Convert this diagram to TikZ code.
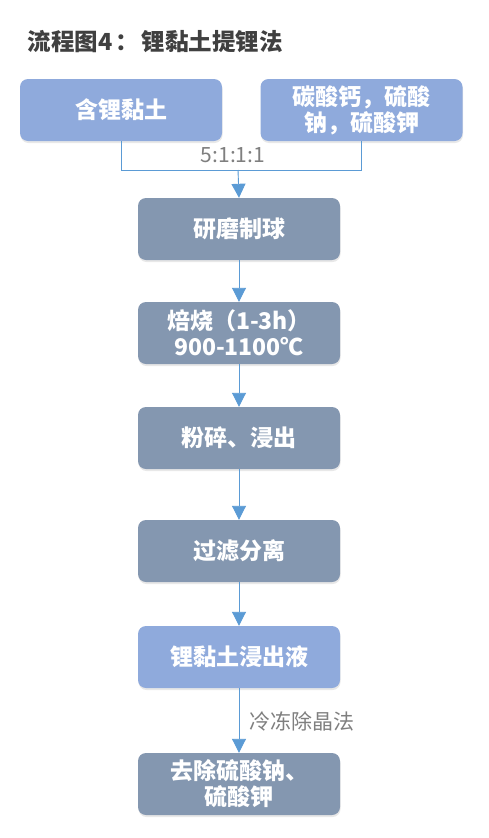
\documentclass[tikz,border=0pt]{standalone}
\usepackage{fontspec}
\setmainfont{Noto Sans CJK SC}
\usetikzlibrary{arrows.meta,shadows}
\definecolor{lblue}{HTML}{8FAADC}
\definecolor{gblue}{HTML}{8497B0}
\definecolor{lnblue}{HTML}{5B9BD5}
\definecolor{ttl}{HTML}{404040}
\definecolor{lbl}{HTML}{7F7F7F}
\tikzset{
  box/.style={rounded corners=8pt, minimum width=202pt, minimum height=62pt, inner sep=2pt,
    text=white, font=\fontsize{23}{27}\selectfont\bfseries, align=center,
    drop shadow={opacity=0.18, shadow xshift=0.5pt, shadow yshift=-2pt}},
  lbox/.style={box, fill=lblue},
  gbox/.style={box, fill=gblue},
  twoline/.style={font=\fontsize{23}{26}\selectfont\bfseries},
  conn/.style={draw=lnblue, line width=0.9pt},
  arr/.style={conn, -{Triangle[width=14pt,length=14pt]}, fill=lnblue},
  lab/.style={text=lbl, font=\fontsize{21}{24}\selectfont}
}
\begin{document}
\begin{tikzpicture}[x=1pt,y=-1pt]
\useasboundingbox[fill=white] (0,0) rectangle (488,838);
\node[anchor=west, text=ttl, font=\fontsize{23.5}{27}\selectfont\bfseries] (title) at (24,42) {流程图4\hspace{3pt}：\hspace{3pt}锂黏土提锂法};
\node[lbox] (A) at (121,110) {含锂黏土};
\node[lbox, twoline] (B) at (361.5,110) {碳酸钙，硫酸\\钠，硫酸钾};
\coordinate (j) at (238,170);
\node[lab] (r) at (233,155) {5:1:1:1};
\node[gbox] (s1) at (239,229) {研磨制球};
\node[gbox, twoline] (s2) at (239,333) {焙烧（1-3h）\\900-1100℃};
\node[gbox] (s3) at (239,438) {粉碎、浸出};
\node[gbox] (s4) at (239,551) {过滤分离};
\node[lbox] (s5) at (239,657) {锂黏土浸出液};
\node[gbox, twoline] (s6) at (239,784) {去除硫酸钠、\\硫酸钾};
\node[lab, anchor=west] (f) at (246,721) {冷冻除晶法};
\draw[conn] (A.south) |- (j);
\draw[conn] (B.south) |- (j);
\draw[arr] (j) -- (s1.north);
\draw[arr] (s1) -- (s2);
\draw[arr] (s2) -- (s3);
\draw[arr] (s3) -- (s4);
\draw[arr] (s4) -- (s5);
\draw[arr] (s5) -- (s6);
\end{tikzpicture}
\end{document}
